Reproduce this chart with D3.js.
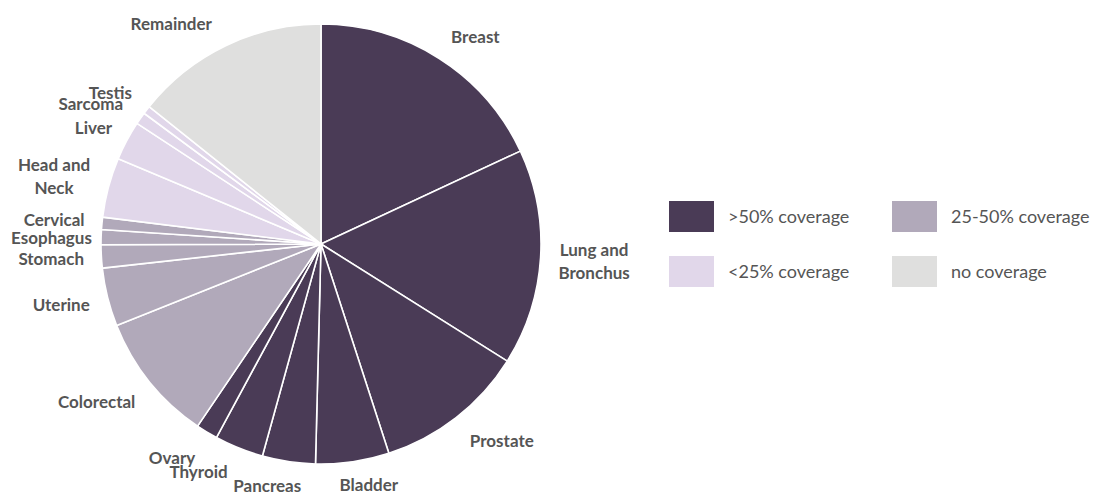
<!DOCTYPE html>
<html>
<head>
<meta charset="UTF-8" />
<title>Coverage by cancer site</title>
<script src="https://d3js.org/d3.v7.min.js"></script>
<style>
body { margin: 0; background: #fff; }
svg text { font-family: Lato, "Open Sans", sans-serif; fill: #555; }
.lbl { font-weight: bold; font-size: 17px; }
.leg { font-size: 18px; }
</style>
</head>
<body>
<svg id="chart" width="1093" height="493"></svg>
<script>
// slices clockwise from 12 o'clock (share of cases, %)
var sites = ['Breast', 'Lung and\nBronchus', 'Prostate', 'Bladder', 'Pancreas', 'Thyroid', 'Ovary',
             'Colorectal', 'Uterine', 'Stomach', 'Esophagus', 'Cervical',
             'Head and\nNeck', 'Liver', 'Sarcoma', 'Testis', 'Remainder'];
var shares = [18.1, 15.9, 11.1, 5.4, 3.9, 3.6, 1.6,
              9.5, 4.3, 1.7, 1.1, 0.9,
              4.4, 2.9, 0.9, 0.6, 14.3];
// coverage class of each site: 0 >50%, 1 25-50%, 2 <25%, 3 none
var coverage = [0, 0, 0, 0, 0, 0, 0,
                1, 1, 1, 1, 1,
                2, 2, 2, 2, 3];
var legendNames = ['>50% coverage', '25-50% coverage', '<25% coverage', 'no coverage'];
var colors = ['#4a3b56', '#b1a9ba', '#e1d7ea', '#dfdfde'];

// small label shifts (like the original's best-fit placement)
var labelNudge = {
  'Breast': [16, 10], 'Prostate': [19, -11], 'Bladder': [12, -6], 'Pancreas': [-17, -6],
  'Thyroid': [-27, -9], 'Ovary': [-16, -5], 'Colorectal': [-12, -13], 'Uterine': [-1, -4],
  'Esophagus': [8, 3], 'Cervical': [0, 1], 'Head and\nNeck': [0, 4], 'Liver': [0, 5],
  'Sarcoma': [-10, 13], 'Testis': [-5, 7], 'Remainder': [-36, 17]
};

var svg = d3.select('#chart');
var cx = 321, cy = 244, r = 220, labelGap = 17;

var pie = d3.pie().sort(null).value(function(d) { return d; });
var arcs = pie(shares);
var arc = d3.arc().innerRadius(0).outerRadius(r);

var g = svg.append('g').attr('transform', 'translate(' + cx + ',' + cy + ')');

g.selectAll('path').data(arcs).enter().append('path')
  .attr('d', arc)
  .attr('fill', function(d, i) { return colors[coverage[i]]; })
  .attr('stroke', '#fff')
  .attr('stroke-width', 1.6)
  .attr('stroke-linejoin', 'round');

// labels: box pushed out along the mid angle so its nearest side touches r + gap
var lineH = 23;
g.selectAll('text.lbl').data(arcs).enter().append('text')
  .attr('class', 'lbl')
  .attr('text-anchor', 'middle')
  .each(function(d, i) {
    var t = d3.select(this);
    var lines = sites[i].split('\n');
    lines.forEach(function(s, k) {
      t.append('tspan').attr('x', 0)
        .attr('y', (k - (lines.length - 1) / 2) * lineH)
        .attr('dy', '0.35em').text(s);
    });
    var bb = this.getBBox();
    var a = (d.startAngle + d.endAngle) / 2;
    var sx = Math.sin(a), sy = -Math.cos(a);
    var dist = r + labelGap + Math.abs(sx) * bb.width / 2 + Math.abs(sy) * lines.length * 17 / 2;
    var n = labelNudge[sites[i]] || [0, 0];
    t.attr('transform', 'translate(' + (sx * dist + n[0]) + ',' + (sy * dist + n[1]) + ')');
  });

// legend, 2 x 2
var legX = d3.scaleOrdinal().domain([0, 1]).range([669, 892]);
var legY = d3.scaleOrdinal().domain([0, 1]).range([201, 256]);
var leg = svg.append('g').selectAll('g').data(legendNames).enter().append('g')
  .attr('transform', function(d, i) { return 'translate(' + legX(i % 2) + ',' + legY(Math.floor(i / 2)) + ')'; });
leg.append('rect').attr('width', 45).attr('height', 31)
  .attr('fill', function(d, i) { return colors[i]; });
leg.append('text').attr('class', 'leg').attr('x', 59).attr('y', 16).attr('dy', '0.35em')
  .text(function(d) { return d; });
</script>
</body>
</html>
